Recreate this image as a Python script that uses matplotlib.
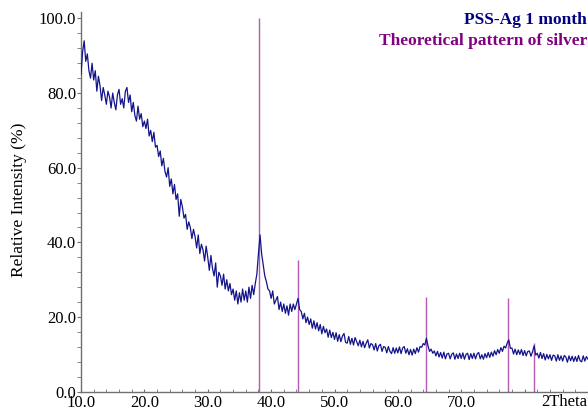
import numpy as np
import matplotlib
matplotlib.use("Agg")
import matplotlib.pyplot as plt
from matplotlib.ticker import MultipleLocator

# 2Theta grid (degrees), 0.25 step
two_theta_start = 10.0
two_theta_stop = 90.0

# Relative intensity (%) of PSS-Ag 1 month
intensity = [
    85.0, 91.0, 94.0, 88.5, 90.5, 86.0, 84.0, 88.0,
    83.5, 86.0, 80.5, 84.5, 82.0, 78.0, 81.5, 79.5,
    77.0, 80.5, 79.0, 76.0, 80.0, 77.5, 75.5, 79.5,
    81.0, 77.0, 78.5, 76.0, 80.5, 81.5, 77.5, 79.5,
    75.0, 77.5, 74.0, 72.5, 76.5, 73.0, 74.5, 71.0,
    72.5, 70.5, 73.0, 68.5, 70.0, 67.0, 69.5, 65.5,
    66.0, 63.0, 64.5, 60.5, 62.5, 59.0, 57.5, 60.0,
    55.0, 57.0, 53.0, 55.5, 51.5, 53.0, 47.0, 51.5,
    49.5, 46.5, 47.5, 43.5, 45.5, 44.0, 41.0, 43.5,
    41.5, 38.5, 42.0, 37.0, 39.5, 38.0, 35.0, 39.0,
    36.0, 32.5, 36.5, 33.0, 31.0, 34.5, 28.0, 32.0,
    31.0, 28.5, 31.5, 27.5, 30.0, 27.0, 29.0, 26.0,
    27.5, 24.5, 27.0, 23.5, 26.5, 24.0, 27.5, 24.5,
    27.0, 24.0, 28.0, 25.0, 28.5, 26.0, 29.0, 31.5,
    37.0, 42.0, 37.0, 34.0, 31.0, 29.5, 27.5, 27.0,
    25.0, 27.0, 23.5, 24.5, 25.5, 22.0, 24.0, 21.5,
    23.5, 21.0, 23.0, 20.5, 23.5, 21.5, 23.5, 22.0,
    23.5, 25.0, 22.0, 21.5, 19.5, 21.0, 18.5, 20.0,
    18.0, 19.5, 17.0, 19.0, 16.8, 18.5, 16.3, 18.0,
    15.5, 17.5, 15.8, 16.8, 14.6, 16.5, 14.5, 15.9,
    14.0, 15.8, 13.5, 15.3, 13.4, 14.9, 15.6, 13.2,
    13.0, 14.8, 12.7, 14.3, 12.5, 14.5, 13.4, 12.3,
    13.8, 12.0, 13.5, 11.8, 13.0, 13.9, 11.7, 12.9,
    12.6, 11.2, 12.9, 10.9, 12.3, 12.7, 10.8, 12.1,
    11.9, 10.4, 12.1, 10.8, 10.2, 11.8, 10.3, 11.7,
    10.4, 12.0, 10.2, 11.7, 12.1, 10.3, 11.5, 9.9,
    11.3, 9.8, 11.4, 10.2, 11.8, 10.6, 12.1, 11.9,
    12.9, 12.5, 14.3, 12.3, 10.8, 11.4, 10.3, 10.9,
    9.6, 10.8, 9.3, 10.5, 9.0, 10.6, 8.8, 10.1,
    10.3, 8.8, 10.0, 10.4, 8.7, 10.1, 8.9, 10.3,
    8.9, 10.4, 8.7, 10.0, 10.3, 8.6, 10.2, 8.9,
    10.3, 8.8, 10.1, 10.5, 8.8, 9.9, 8.7, 10.2,
    9.1, 10.5, 9.2, 10.6, 9.5, 11.0, 9.9, 11.3,
    10.3, 11.8, 10.8, 12.2, 11.7, 13.0, 13.9, 11.6,
    11.7, 10.1, 11.4, 9.9, 11.2, 10.0, 11.3, 9.7,
    11.0, 9.6, 10.8, 10.9, 9.5, 10.7, 12.3, 9.8,
    10.3, 9.0, 10.5, 8.9, 10.2, 8.5, 10.0, 8.8,
    9.9, 8.4, 9.8, 9.6, 8.2, 9.9, 8.4, 9.6,
    8.2, 9.7, 9.3, 7.9, 9.6, 8.3, 9.5, 8.1,
    9.4, 8.1, 9.7, 8.3, 8.0, 9.6, 8.2, 9.4,
    8.7,
]

# Theoretical silver pattern
silver_positions = [38.1, 44.3, 64.4, 77.4, 81.5]
silver_heights = [100.0, 35.3, 25.5, 25.0, 13.0]

x_ticks = [10, 20, 30, 40, 50, 60, 70, 80]
x_tick_labels = ["10.0", "20.0", "30.0", "40.0", "50.0", "60.0", "70.0", ""]
y_ticks = [0, 20, 40, 60, 80, 100]
y_tick_labels = ["0.0", "20.0", "40.0", "60.0", "80.0", "100.0"]

two_theta = np.linspace(two_theta_start, two_theta_stop, len(intensity))

serif = ["Liberation Serif", "DejaVu Serif"]
plt.rcParams["font.family"] = serif

fig = plt.figure(figsize=(5.88, 4.09), dpi=100)
ax = fig.add_axes([81 / 588, 1 - 391.7 / 409, 1 - 81 / 588, (391.7 - 11.7) / 409])

ax.vlines(silver_positions, 0, silver_heights, colors="#b45ab4", linewidth=1.0, zorder=2)
ax.plot(two_theta, intensity, color="#14148a", linewidth=0.9, zorder=3)

ax.set_xlim(10, 90)
ax.set_ylim(0, 101.8)

ax.set_xticks(x_ticks)
ax.set_xticklabels(x_tick_labels)
ax.set_yticks(y_ticks)
ax.set_yticklabels(y_tick_labels)
ax.xaxis.set_minor_locator(MultipleLocator(2))
ax.yaxis.set_minor_locator(MultipleLocator(4))

for s in ["top", "right"]:
    ax.spines[s].set_visible(False)
for s in ["left", "bottom"]:
    ax.spines[s].set_color("#707070")
    ax.spines[s].set_linewidth(1.0)

ax.tick_params(axis="x", which="both", direction="in", length=2, color="#707070",
               labelsize=12, pad=2.5)
ax.tick_params(axis="y", which="both", direction="out", length=3, color="#707070",
               labelsize=12, pad=0.5)

fig.text(587 / 588, 1 - 402 / 409, "2Theta", ha="right", va="center", fontsize=12)
fig.text(19.5 / 588, 1 - 200 / 409, "Relative Intensity (%)", rotation=90,
         ha="center", va="center", fontsize=12.5)

fig.text(587 / 588, 1 - 20.5 / 409, "PSS-Ag 1 month", ha="right", va="center",
         fontsize=12.5, fontweight="bold", color="#000080")
fig.text(587 / 588, 1 - 41 / 409, "Theoretical pattern of silver", ha="right",
         va="center", fontsize=12.5, fontweight="bold", color="#800080")

fig.savefig("out.png", dpi=100)
